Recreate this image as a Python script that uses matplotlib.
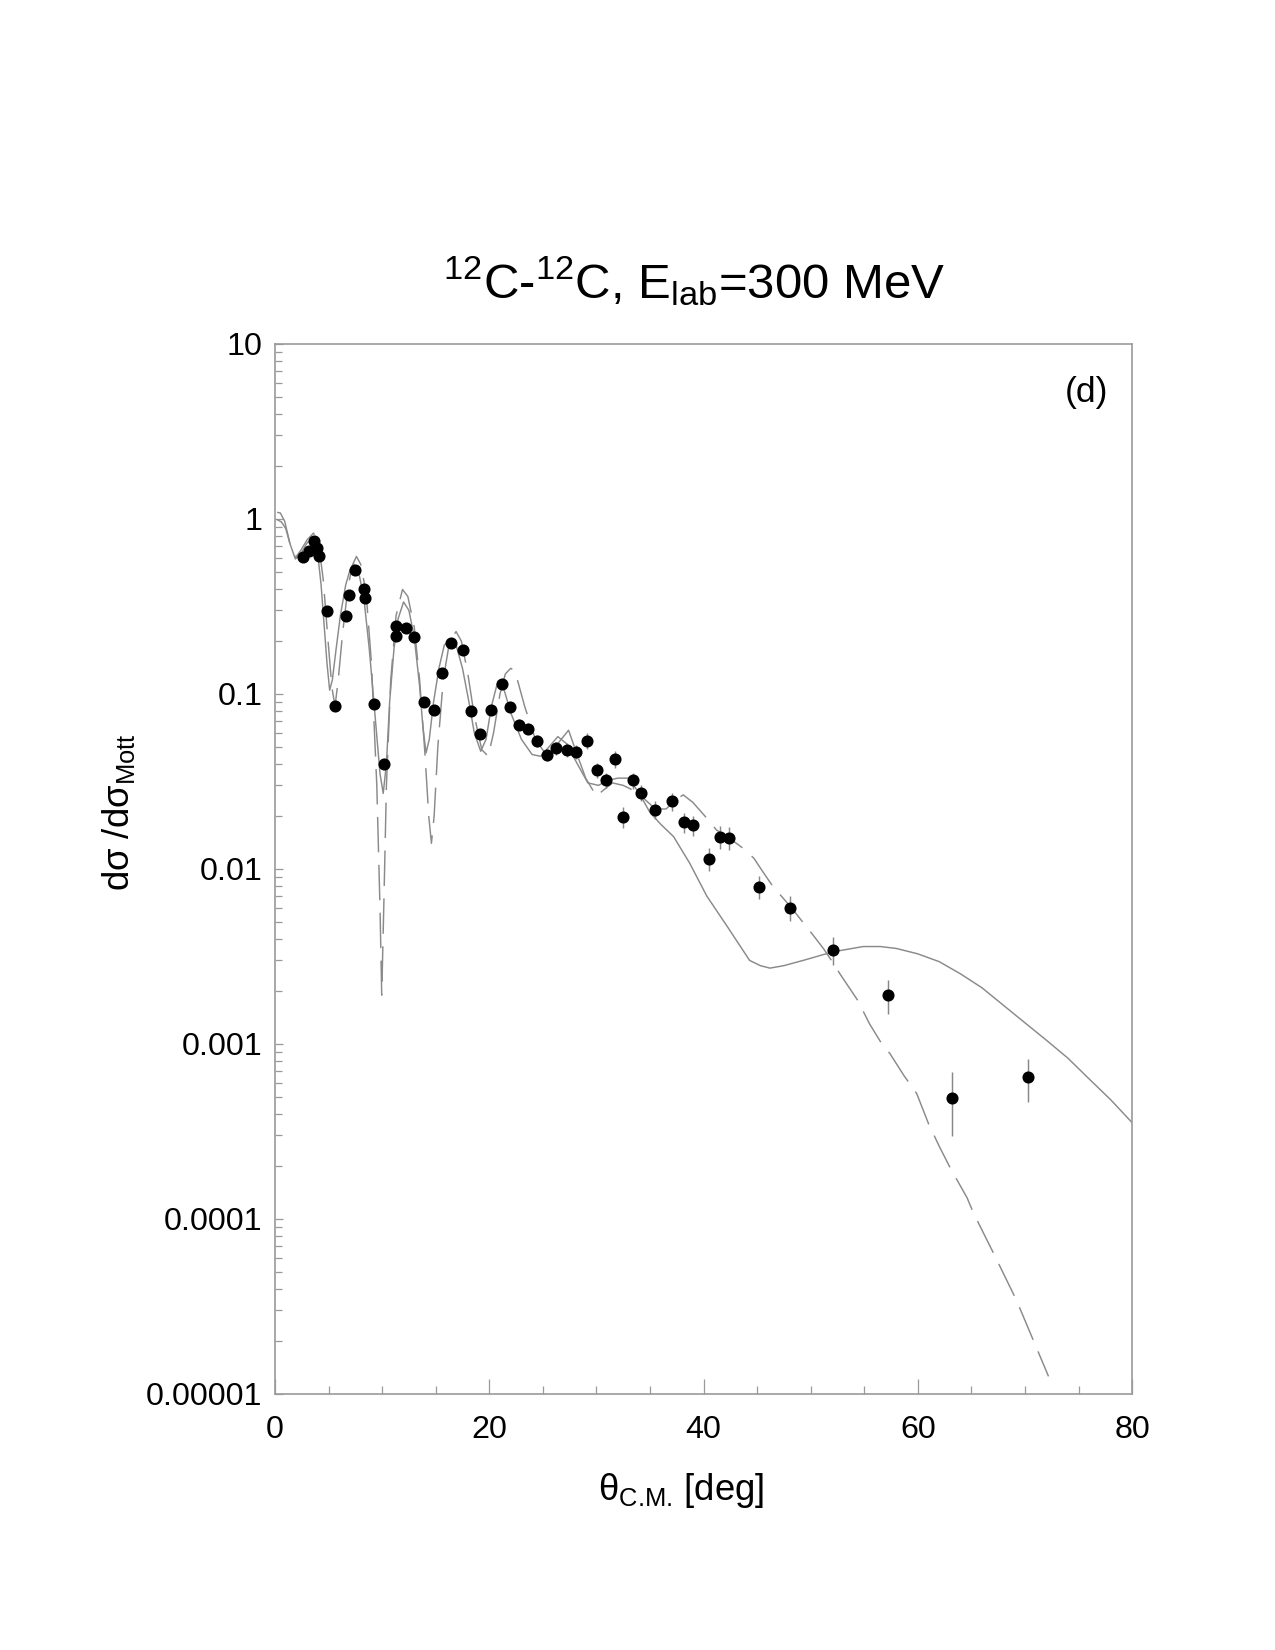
import numpy as np
import matplotlib
matplotlib.use("Agg")
import matplotlib.pyplot as plt
from matplotlib.ticker import FixedLocator, LogLocator, NullFormatter

# --- DATA ---
theta_exp = [2.58, 3.14, 3.64, 3.95, 4.08, 4.82, 5.6, 6.63, 6.91, 7.44, 8.31, 8.43,
             9.24, 10.2, 11.26, 11.26, 12.2, 13.0, 13.9, 14.8, 15.6, 16.4, 17.55,
             18.33, 19.17, 20.13, 21.2, 21.97, 22.78, 23.65, 24.46, 25.37, 26.25,
             27.29, 28.1, 29.12, 30.06, 30.93, 31.74, 32.5, 33.4, 34.2, 35.5, 37.06,
             38.2, 39.0, 40.54, 41.5, 42.35, 45.15, 48.1, 52.1, 57.2, 63.2, 70.26]
sigma_exp = [0.609, 0.659, 0.748, 0.686, 0.61, 0.299, 0.0857, 0.28, 0.369, 0.507, 0.395,
             0.355, 0.0877, 0.040, 0.245, 0.213, 0.239, 0.21, 0.0904, 0.0813, 0.131,
             0.196, 0.177, 0.080, 0.0593, 0.0813, 0.1146, 0.0845, 0.0668, 0.0634,
             0.054, 0.045, 0.049, 0.0479, 0.0466, 0.054, 0.0365, 0.0323, 0.0426,
             0.0199, 0.032, 0.0273, 0.0218, 0.0243, 0.0185, 0.0177, 0.01146, 0.0152,
             0.0151, 0.00793, 0.00601, 0.00346, 0.00191, 0.000493, 0.000643]
# relative errors (%)
err_pct = [4, 4, 4, 4, 4, 4, 5, 4, 4, 4, 4, 4,
           5, 6, 4, 4, 4, 4, 5, 5, 5, 5, 5,
           6, 6, 6, 6, 7, 7, 7, 8, 8, 9,
           9, 9, 10, 10, 10, 11, 14, 11, 11, 12, 12,
           13, 13, 15, 15, 15, 15, 16, 18, 22, 40, 28]

# solid model curve
theta_solid = [0.2, 0.6, 1.0, 1.4, 1.9, 2.4, 3.0, 3.6, 4.0, 4.3, 4.6, 4.85, 5.1, 5.35,
               5.7, 6.1, 6.6, 7.0, 7.35, 7.8, 8.3, 8.8, 9.3, 9.8, 10.1, 10.4, 10.7,
               11.1, 11.5, 12.0, 12.5, 13.0, 13.5, 13.8, 14.1, 14.4, 14.8, 15.3, 15.8,
               16.4, 16.9, 17.5, 18.1, 18.6, 19.2, 19.7, 20.2, 20.8, 21.2, 21.6, 22.0,
               23.0, 24.0, 24.8, 25.6, 26.4, 27.2, 28.2, 29.2, 30.2, 31.0, 32.0, 33.0,
               34.0, 35.0, 36.0, 37.2, 38.7, 40.3, 42.2, 44.3, 45.3, 46.2, 47.5, 49.3,
               52.1, 54.9, 56.5, 58.0, 60.0, 62.0, 64.0, 66.0, 68.0, 70.0, 72.0, 74.0,
               76.0, 78.0, 80.0]
sigma_solid = [0.99, 0.96, 0.88, 0.72, 0.59, 0.63, 0.73, 0.78, 0.62, 0.42, 0.24, 0.15,
               0.105, 0.12, 0.18, 0.28, 0.42, 0.51, 0.55, 0.5, 0.35, 0.18, 0.08, 0.035,
               0.027, 0.04, 0.09, 0.18, 0.27, 0.335, 0.3, 0.21, 0.11, 0.065, 0.046,
               0.055, 0.09, 0.14, 0.19, 0.205, 0.19, 0.14, 0.09, 0.06, 0.047, 0.055,
               0.085, 0.118, 0.115, 0.095, 0.078, 0.055, 0.045, 0.044, 0.05, 0.057,
               0.052, 0.04, 0.031, 0.03, 0.032, 0.033, 0.033, 0.027, 0.021, 0.018,
               0.0153, 0.0108, 0.0070, 0.0047, 0.0030, 0.0028, 0.00271, 0.0028,
               0.0030, 0.00336, 0.0036, 0.0036, 0.00351, 0.00327, 0.00295, 0.00251,
               0.00209, 0.00166, 0.00132, 0.00105, 0.00083, 0.00063, 0.00048, 0.000355]

# dashed model curve
theta_dash = [0.2, 0.5, 0.9, 1.4, 1.9, 2.4, 3.0, 3.6, 4.1, 4.5, 4.9, 5.3, 5.6, 5.9,
              6.3, 6.8, 7.2, 7.6, 8.0, 8.5, 9.0, 9.5, 9.8, 9.96, 10.15, 10.4, 10.8,
              11.3, 11.9, 12.4, 13.0, 13.5, 14.0, 14.35, 14.6, 14.85, 15.2, 15.7,
              16.3, 16.9, 17.4, 18.0, 18.6, 19.3, 19.9, 20.4, 21.0, 21.5, 22.0, 22.4,
              23.3, 24.3, 25.3, 26.4, 27.4, 28.2, 29.0, 30.0, 30.6, 31.5, 32.5, 33.5,
              34.5, 35.5, 36.5, 37.5, 38.1, 39.0, 40.3, 41.2, 42.4, 43.7, 44.7, 45.6,
              46.5, 47.3, 48.3, 49.3, 50.1, 51.2, 52.1, 52.7, 54.4, 55.5, 56.6, 57.4,
              58.7, 59.9, 61.0, 62.0, 63.0, 64.6, 65.2, 67.05, 69.2, 72.2]
sigma_dash = [1.09, 1.08, 0.97, 0.72, 0.6, 0.66, 0.76, 0.83, 0.7, 0.45, 0.22, 0.11,
              0.085, 0.12, 0.22, 0.4, 0.54, 0.61, 0.55, 0.38, 0.15, 0.03, 0.006, 0.0019,
              0.006, 0.03, 0.12, 0.28, 0.395, 0.36, 0.24, 0.12, 0.045, 0.02, 0.014,
              0.02, 0.05, 0.12, 0.2, 0.227, 0.2, 0.13, 0.075, 0.048, 0.044, 0.06, 0.1,
              0.13, 0.14, 0.135, 0.085, 0.055, 0.045, 0.052, 0.062, 0.045, 0.033,
              0.026, 0.028, 0.031, 0.03, 0.028, 0.025, 0.022, 0.022, 0.025, 0.0265,
              0.024, 0.0195, 0.0167, 0.015, 0.0131, 0.0115, 0.0095, 0.0079, 0.00695,
              0.0059, 0.00493, 0.00428, 0.0035, 0.0029, 0.00253, 0.00177, 0.0013,
              0.00101, 0.00088, 0.00066, 0.00052, 0.00035, 0.00026, 0.000197,
              0.000132, 0.000108, 6.4e-5, 3.44e-5, 1.26e-5]

x_ticks = [0, 20, 40, 60, 80]
y_ticks = [1e-5, 1e-4, 1e-3, 1e-2, 1e-1, 1, 10]
y_tick_labels = ["0.00001", "0.0001", "0.001", "0.01", "0.1", "1", "10"]

# --- STYLE ---
plt.rcParams["font.family"] = ["Liberation Sans", "DejaVu Sans"]
plt.rcParams["mathtext.fontset"] = "custom"
plt.rcParams["mathtext.rm"] = "Liberation Sans"
plt.rcParams["mathtext.it"] = "Liberation Sans:italic"
plt.rcParams["mathtext.default"] = "regular"
plt.rcParams["lines.scale_dashes"] = False

fig = plt.figure(figsize=(8.5, 11), dpi=150)
ax = fig.add_axes([0.2157, 0.1552, 0.6722, 0.6364])

line_col = "#8a8a8a"
ax.plot(theta_solid, sigma_solid, color=line_col, lw=0.7)
ax.plot(theta_dash, sigma_dash, color=line_col, lw=0.7, dashes=(17, 6))

sig = np.array(sigma_exp)
yerr = sig * np.array(err_pct) / 100.0
ax.errorbar(theta_exp, sigma_exp, yerr=yerr, fmt="o", color="black", ms=4.8,
            ecolor="#888888", elinewidth=0.7, capsize=0, zorder=3)

ax.set_yscale("log")
ax.set_xlim(0, 80)
ax.set_ylim(1e-5, 10)

ax.xaxis.set_major_locator(FixedLocator(x_ticks))
ax.xaxis.set_minor_locator(FixedLocator(list(range(0, 81, 5))))
ax.yaxis.set_major_locator(FixedLocator(y_ticks))
ax.set_yticklabels(y_tick_labels)
ax.yaxis.set_minor_locator(LogLocator(base=10, subs=np.arange(2, 10)))
ax.yaxis.set_minor_formatter(NullFormatter())

for s in ax.spines.values():
    s.set_color("#9a9a9a")
    s.set_linewidth(0.8)

ax.tick_params(axis="x", which="major", direction="in", length=7.2, width=0.6,
               color="#9a9a9a", labelsize=15.5, pad=10)
ax.tick_params(axis="x", which="minor", direction="in", length=3.8, width=0.6,
               color="#9a9a9a")
ax.tick_params(axis="y", which="major", direction="in", length=4, width=0.6,
               color="#9a9a9a", labelsize=15.5, pad=6)
ax.tick_params(axis="y", which="minor", direction="in", length=3.3, width=0.6,
               color="#9a9a9a")

# axis titles placed as in the original
fig.text(0.534, 0.0964, r"θ$_{\text{C.M.}}$ [deg]", fontsize=17.5,
         ha="center", va="center")
fig.text(0.0933, 0.508, r"dσ /dσ$_{\rm Mott}$", fontsize=17.5,
         ha="center", va="center", rotation=90)

ax.text(0.972, 0.969, "(d)", transform=ax.transAxes, ha="right", va="top",
        fontsize=17)

fig.text(0.5447, 1 - 298 / 1650, r"$^{12}$C-$^{12}$C, E$_{\rm lab}$=300 MeV",
         ha="center", va="baseline", fontsize=23.6)

fig.savefig("out.png", dpi=150, facecolor="white")
